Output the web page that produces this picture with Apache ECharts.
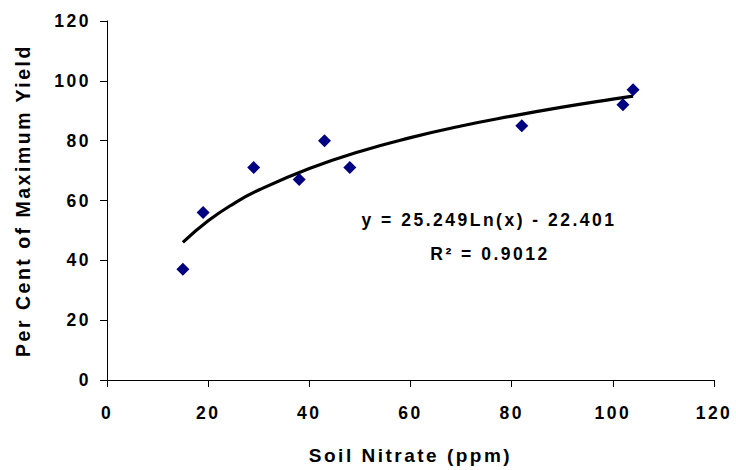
<!DOCTYPE html>
<html>
<head>
<meta charset="utf-8">
<script src="https://cdn.jsdelivr.net/npm/echarts@6/dist/echarts.min.js"></script>
<style>
  html, body { margin: 0; padding: 0; background: #fff; }
  #chart { width: 736px; height: 470px; }
  /* the reference text is set wide, so spread the letters a little */
  #chart text { letter-spacing: 2.5px; }
</style>
</head>
<body>
<div id="chart"></div>
<script>
const nitrate = [15, 19, 29, 38, 43, 48, 82, 102, 104];
const yieldPct = [37, 56, 71, 67, 80, 71, 85, 92, 97];

// log trend line
const trendX = [15, 20, 25, 30, 40, 50, 60, 70, 80, 90, 100, 104];
const trendY = [46, 53.2, 58.9, 63.5, 70.7, 76.4, 81, 84.9, 88.2, 91.2, 93.9, 94.9];

const xTicks = [0, 20, 40, 60, 80, 100, 120];
const yTicks = [0, 20, 40, 60, 80, 100, 120];

const eqText = "y = 25.249Ln(x) - 22.401";
const r2Text = "R² = 0.9012";

const font = "'Liberation Sans', Arial, sans-serif";

const chart = echarts.init(document.getElementById("chart"), null, { renderer: "svg" });

chart.setOption({
  backgroundColor: "#fff",
  animation: false,
  textStyle: { fontFamily: font, color: "#000", fontWeight: "bold" },
  grid: { left: 107, right: 22, top: 21, bottom: 89 },
  xAxis: {
    type: "value",
    min: xTicks[0],
    max: xTicks[xTicks.length - 1],
    interval: 20,
    name: "Soil Nitrate (ppm)",
    nameLocation: "middle",
    nameGap: 66,
    nameTextStyle: { fontSize: 19, fontWeight: "bold", color: "#000", fontFamily: font },
    axisLine: { lineStyle: { color: "#000", width: 1 } },
    axisTick: { length: 7, lineStyle: { color: "#000" } },
    axisLabel: { fontSize: 17.5, fontWeight: "bold", color: "#000", margin: 24, fontFamily: font },
    splitLine: { show: false },
  },
  yAxis: {
    type: "value",
    min: yTicks[0],
    max: yTicks[yTicks.length - 1],
    interval: 20,
    name: "Per Cent of Maximum Yield",
    nameLocation: "middle",
    nameGap: 74,
    nameTextStyle: { fontSize: 19.5, fontWeight: "bold", color: "#000", fontFamily: font },
    axisLine: { show: true, lineStyle: { color: "#000", width: 1 } },
    axisTick: { show: true, length: 7, lineStyle: { color: "#000" } },
    axisLabel: { fontSize: 17.5, fontWeight: "bold", color: "#000", margin: 16, fontFamily: font },
    splitLine: { show: false },
  },
  series: [
    {
      type: "line",
      data: trendX.map((x, i) => [x, trendY[i]]),
      smooth: true,
      showSymbol: false,
      lineStyle: { color: "#000", width: 3.2 },
      z: 2,
    },
    {
      type: "scatter",
      data: nitrate.map((x, i) => [x, yieldPct[i]]),
      symbol: "diamond",
      symbolSize: 13,
      itemStyle: { color: "#000080", opacity: 1 },
      z: 3,
    },
  ],
  graphic: [
    {
      type: "text",
      x: 489,
      y: 220,
      style: {
        text: eqText,
        font: "bold 17.5px " + font,
        fill: "#000",
        align: "center",
        verticalAlign: "middle",
      },
    },
    {
      type: "text",
      x: 490,
      y: 254,
      style: {
        text: r2Text,
        font: "bold 17.5px " + font,
        fill: "#000",
        align: "center",
        verticalAlign: "middle",
      },
    },
  ],
});
</script>
</body>
</html>
